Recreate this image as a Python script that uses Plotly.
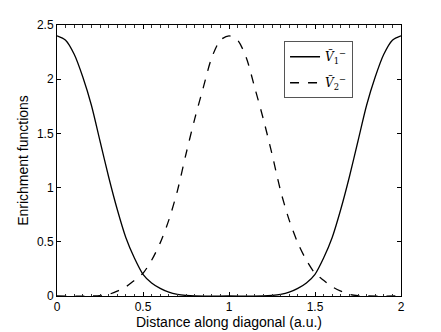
import plotly.graph_objects as go

# values
x_v1 = [0.00, 0.05, 0.10, 0.15, 0.20, 0.25, 0.30, 0.35, 0.40, 0.45, 0.50, 0.55, 0.60,
        0.65, 0.70, 0.75, 0.80, 1.00, 1.20, 1.25, 1.30, 1.35, 1.40, 1.45, 1.50, 1.55,
        1.60, 1.65, 1.70, 1.75, 1.80, 1.85, 1.90, 1.95, 2.00]
v1 = [2.40, 2.36, 2.23, 2.02, 1.76, 1.43, 1.10, 0.80, 0.54, 0.35, 0.20, 0.12, 0.07,
      0.035, 0.015, 0.005, 0.0, 0.0, 0.0, 0.005, 0.015, 0.035, 0.07, 0.12, 0.20, 0.35,
      0.54, 0.80, 1.10, 1.43, 1.76, 2.02, 2.23, 2.36, 2.40]

x_v2 = [0.00, 0.20, 0.25, 0.30, 0.35, 0.40, 0.45, 0.50, 0.55, 0.60, 0.65, 0.70, 0.75,
        0.80, 0.85, 0.90, 0.95, 1.00, 1.05, 1.10, 1.15, 1.20, 1.25, 1.30, 1.35, 1.40,
        1.45, 1.50, 1.55, 1.60, 1.65, 1.70, 1.75, 1.80, 2.00]
v2 = [0.0, 0.0, 0.003, 0.015, 0.045, 0.085, 0.145, 0.21, 0.33, 0.49, 0.70, 0.97, 1.31,
      1.63, 1.92, 2.20, 2.36, 2.40, 2.36, 2.20, 1.92, 1.63, 1.31, 0.97, 0.70, 0.49,
      0.33, 0.21, 0.145, 0.085, 0.045, 0.015, 0.003, 0.0, 0.0]

names = ['<i>Ṽ</i><sub>1</sub><sup>−</sup>', '<i>Ṽ</i><sub>2</sub><sup>−</sup>']

fig = go.Figure()
fig.add_trace(go.Scatter(x=x_v1, y=v1, name=names[0], mode='lines', legendgroup='a',
                         line=dict(color='black', width=1.3, shape='spline', smoothing=0.8)))
fig.add_trace(go.Scatter(x=x_v2, y=v2, name=names[1], mode='lines', legendgroup='b',
                         line=dict(color='black', width=1.3, dash='dash', shape='spline', smoothing=0.8)))

# page body has an 8px margin, so the figure is a bit smaller than the window
axis_font = dict(family='Liberation Sans, Arial', size=12, color='black')
fig.update_layout(
    width=433, height=324,
    margin=dict(l=49, r=40, t=17, b=36),
    paper_bgcolor='white', plot_bgcolor='white',
    font=axis_font,
    showlegend=True,
    legend=dict(x=0.66, y=0.94, xanchor='left', yanchor='top',
                bordercolor='#555', borderwidth=1, bgcolor='white',
                font=dict(family='DejaVu Serif', size=12, color='black'),
                itemwidth=30, tracegroupgap=7),
    xaxis=dict(range=[0, 2], tickvals=[0, 0.5, 1, 1.5, 2], ticktext=['0', '0.5', '1', '1.5', '2'],
               ticks='inside', ticklen=4, tickcolor='black', showline=True, linecolor='black',
               linewidth=1, mirror='ticks', showgrid=False, zeroline=False, automargin=False,
               minor=dict(dtick=0.05, ticks='inside', ticklen=2.5, tickcolor='#333'),
               title=dict(text='Distance along diagonal (a.u.)', standoff=0),
               tickfont=axis_font),
    yaxis=dict(range=[0, 2.5], tickvals=[0, 0.5, 1, 1.5, 2, 2.5],
               ticktext=['0', '0.5', '1', '1.5', '2', '2.5'],
               ticks='inside', ticklen=4, tickcolor='black', showline=True, linecolor='black',
               linewidth=1, mirror='ticks', showgrid=False, zeroline=False, automargin=False,
               title=dict(text='Enrichment functions', standoff=5),
               tickfont=axis_font),
)

fig.write_html("out.html")
